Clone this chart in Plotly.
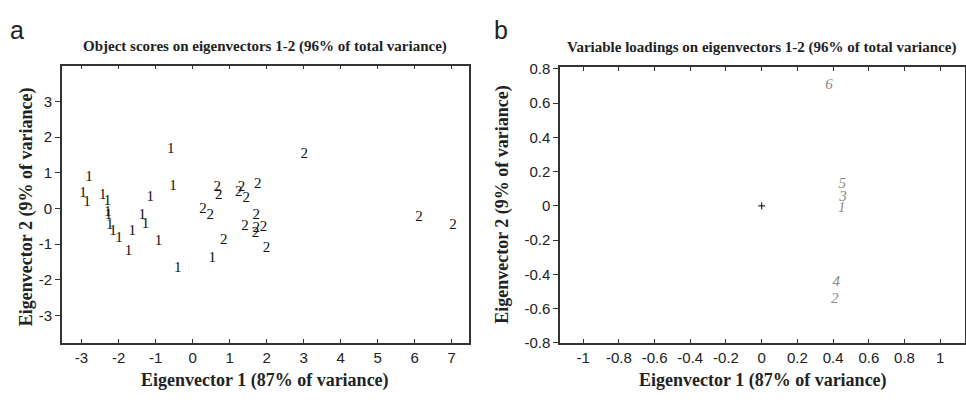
import plotly.graph_objects as go

# ---- Data: object scores (panel a) ----
group1_x = [-0.59, -2.80, -2.96, -2.85, -2.43, -2.30, -2.29, -2.27, -2.24, -2.15, -1.99,
            -1.63, -1.73, -1.14, -1.36, -1.27, -0.92, -0.53, -0.40, 0.53]
group1_y = [1.65, 0.87, 0.42, 0.17, 0.38, 0.20, -0.12, -0.20, -0.47, -0.65, -0.83,
            -0.65, -1.19, 0.30, -0.19, -0.45, -0.92, 0.62, -1.68, -1.39]
group2_x = [3.02, 0.67, 0.71, 1.25, 1.32, 1.45, 1.76, 0.28, 0.48, 1.72, 1.42, 1.72,
            1.70, 1.92, 2.00, 0.84, 6.12, 7.04]
group2_y = [1.52, 0.58, 0.38, 0.46, 0.60, 0.29, 0.69, -0.03, -0.19, -0.19, -0.50, -0.56,
            -0.70, -0.52, -1.12, -0.88, -0.25, -0.46]

# ---- Data: variable loadings (panel b) ----
var_labels = ["1", "2", "3", "4", "5", "6"]
var_x = [0.448, 0.409, 0.456, 0.418, 0.452, 0.377]
var_y = [-0.013, -0.543, 0.05, -0.445, 0.128, 0.706]

x_ticks_a = [-3, -2, -1, 0, 1, 2, 3, 4, 5, 6, 7]
y_ticks_a = [-3, -2, -1, 0, 1, 2, 3]
x_ticks_b = [-1, -0.8, -0.6, -0.4, -0.2, 0, 0.2, 0.4, 0.6, 0.8, 1]
y_ticks_b = [-0.8, -0.6, -0.4, -0.2, 0, 0.2, 0.4, 0.6, 0.8]

SERIF = "Liberation Serif"
SANS = "Liberation Sans"
AX = "#333333"

fig = go.Figure()

fig.add_trace(go.Scatter(x=group1_x, y=group1_y, mode="text", text=["1"] * len(group1_x),
                         textfont=dict(family=SERIF, size=15, color="#111"),
                         textposition="middle center", xaxis="x", yaxis="y", showlegend=False))
fig.add_trace(go.Scatter(x=group2_x, y=group2_y, mode="text", text=["2"] * len(group2_x),
                         textfont=dict(family=SERIF, size=15, color="#111"),
                         textposition="middle center", xaxis="x", yaxis="y", showlegend=False))
fig.add_trace(go.Scatter(x=[0], y=[0], mode="markers",
                         marker=dict(symbol="cross-thin", size=5, line=dict(width=1, color="#000")),
                         xaxis="x2", yaxis="y2", showlegend=False))
fig.add_trace(go.Scatter(x=var_x, y=var_y, mode="text", text=["<i>%s</i>" % s for s in var_labels],
                         textfont=dict(family=SERIF, size=15, color="#8a8a8a"),
                         textposition="middle center", xaxis="x2", yaxis="y2", showlegend=False))

W, H = 966, 400
def px_x(p):
    return p / W
def px_y(p):
    return 1 - p / H

xdom_a = [px_x(62), px_x(469.5)]
xdom_b = [px_x(560.7), px_x(965.5)]
ydom_a = [px_y(349), px_y(61)]
ydom_b = [px_y(349), px_y(62.5)]

xr_a = [-3.53, 7.47]
yr_a = [-3.77, 4.0]
xr_b = [-1.129, 1.136]
yr_b = [-0.8, 0.81]

tickfont = dict(family=SANS, size=15, color="#222")

def xaxis(dom, rng, ticks, anchor):
    return dict(domain=dom, range=rng, tickvals=ticks, ticktext=[("%g" % t) for t in ticks],
                ticks="inside", ticklen=4, tickcolor=AX, showline=True, linecolor=AX, linewidth=1.5,
                mirror="ticks", showgrid=False, zeroline=False, tickfont=tickfont, anchor=anchor)

def yaxis(dom, rng, ticks, anchor):
    return dict(domain=dom, range=rng, tickvals=ticks, ticktext=[("%g" % t) for t in ticks],
                ticks="outside", ticklen=5, tickcolor=AX, showline=True, linecolor=AX, linewidth=1.5,
                mirror=True, showgrid=False, zeroline=False, tickfont=tickfont, anchor=anchor)

def yaxis_right(dom, rng, ticks, anchor, over):
    return dict(domain=dom, range=rng, tickvals=ticks, showticklabels=False,
                ticks="inside", ticklen=4, tickcolor=AX, showline=False, showgrid=False,
                zeroline=False, side="right", overlaying=over, anchor=anchor)

fig.update_layout(
    width=W, height=H,
    margin=dict(l=0, r=0, t=0, b=0),
    paper_bgcolor="white", plot_bgcolor="white",
    xaxis=xaxis(xdom_a, xr_a, x_ticks_a, "y"),
    yaxis=yaxis(ydom_a, yr_a, y_ticks_a, "x"),
    xaxis2=xaxis(xdom_b, xr_b, x_ticks_b, "y2"),
    yaxis2=yaxis(ydom_b, yr_b, y_ticks_b, "x2"),
    yaxis3=yaxis_right(ydom_a, yr_a, y_ticks_a, "x", "y"),
    yaxis4=yaxis_right(ydom_b, yr_b, y_ticks_b, "x2", "y2"),
)

title_font = dict(family=SERIF, size=15, color="#222")
axt_font = dict(family=SERIF, size=18, color="#222")
ann = [
    dict(text="<b>Object scores on eigenvectors 1-2 (96% of total variance)</b>",
         x=(xdom_a[0] + xdom_a[1]) / 2, y=px_y(41), font=title_font),
    dict(text="<b>Variable loadings on eigenvectors 1-2 (96% of total variance)</b>",
         x=px_x(762), y=px_y(42), font=title_font),
    dict(text="<b>Eigenvector 1 (87% of variance)</b>",
         x=(xdom_a[0] + xdom_a[1]) / 2, y=px_y(388), font=axt_font),
    dict(text="<b>Eigenvector 1 (87% of variance)</b>",
         x=px_x(764), y=px_y(388), font=axt_font),
    dict(text="<b>Eigenvector 2 (9% of variance)</b>", textangle=-90,
         x=px_x(26), y=px_y(207), font=axt_font),
    dict(text="<b>Eigenvector 2 (9% of variance)</b>", textangle=-90,
         x=px_x(503), y=px_y(205), font=axt_font),
    dict(text="a", x=px_x(17), y=px_y(24), font=dict(family=SANS, size=25, color="#222")),
    dict(text="b", x=px_x(502), y=px_y(24), font=dict(family=SANS, size=25, color="#222")),
]
for a in ann:
    a.update(xref="paper", yref="paper", showarrow=False, xanchor="center", yanchor="middle")
fig.update_layout(annotations=ann)

fig.write_html("out.html", config={"displayModeBar": False},
               post_script="document.body.style.margin='0';")
